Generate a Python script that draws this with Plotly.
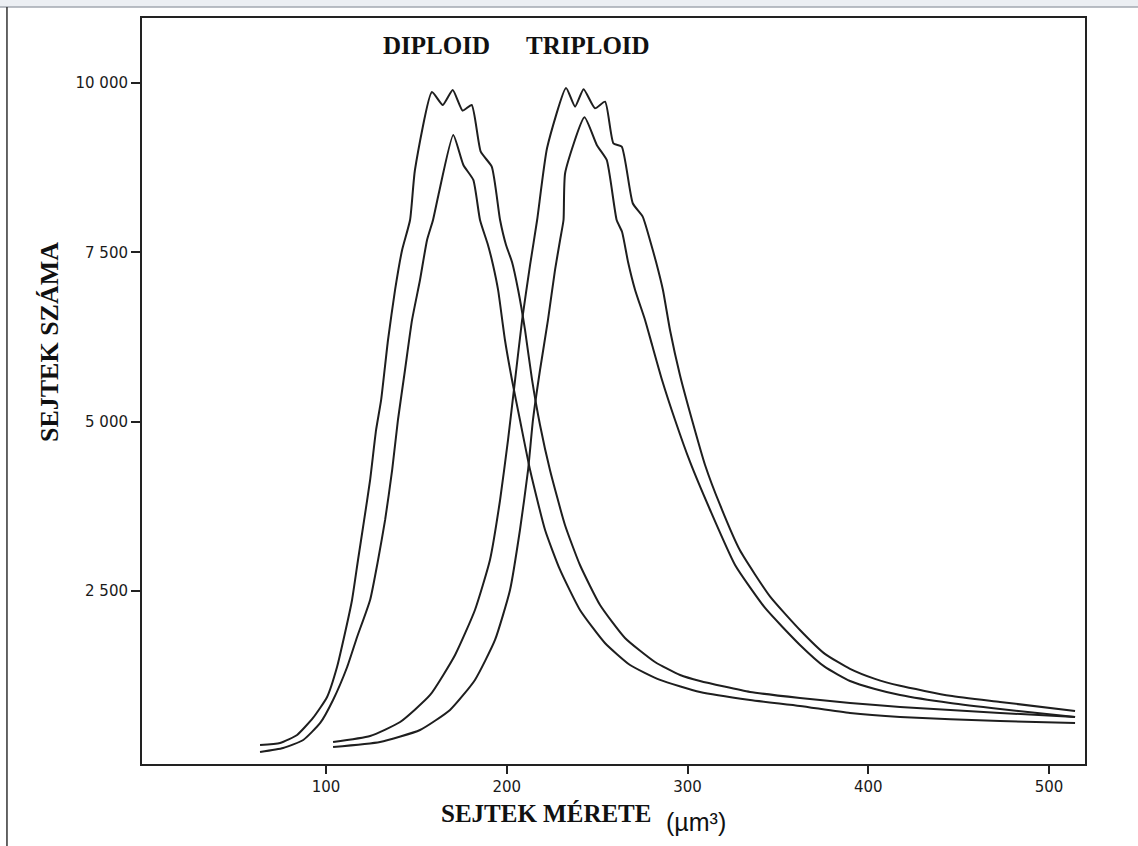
import plotly.graph_objects as go

# Cell-size distributions (cell volume in µm³ vs. number of cells)
dip_outer_x = [63.5, 74.6, 84.0, 92.8, 100.6, 106.1, 110.5, 114.4, 117.7, 121.1, 124.4, 127.7,
               130.5, 134.3, 138.2, 142.1, 146.5, 149.2, 158.6, 164.6, 170.1, 175.6, 180.6,
               185.6, 191.7, 196.3, 199.6, 202.9, 206.3, 210.1, 214.0, 218.4, 223.9, 232.2,
               240.5, 251.6, 265.4, 282.0, 295.9, 306.9, 334.6, 362.2, 389.9, 417.6, 472.9, 514.4]
dip_outer_y = [226, 255, 374, 625, 935, 1377, 1879, 2367, 2957, 3548, 4138, 4877,
               5320, 6205, 6944, 7534, 7977, 8715, 9867, 9675, 9896, 9591, 9675,
               8985, 8764, 7977, 7608, 7357, 6944, 6353, 5615, 4950, 4286, 3474,
               2883, 2293, 1806, 1451, 1259, 1171, 1008, 920, 846, 787, 698, 639]

dip_inner_x = [63.5, 76.3, 87.4, 96.8, 103.9, 111.7, 117.2, 124.4, 128.8, 132.7, 136.6, 139.8,
               143.7, 147.6, 152.0, 155.9, 159.2, 162.2, 170.4, 176.0, 181.5, 185.2, 189.6,
               192.4, 195.2, 199.0, 202.9, 207.3, 212.9, 221.2, 229.5, 240.5, 254.3, 268.2,
               284.8, 306.9, 334.6, 362.2, 389.9, 417.6, 472.9, 514.4]
dip_inner_y = [123, 182, 300, 551, 890, 1377, 1820, 2367, 2957, 3548, 4286, 5024,
               5762, 6501, 7091, 7682, 7977, 8346, 9232, 8789, 8568, 7977, 7608,
               7313, 6944, 6205, 5615, 5024, 4286, 3400, 2810, 2219, 1732, 1407,
               1186, 1008, 890, 802, 698, 639, 580, 551]

trip_outer_x = [103.9, 124.4, 141.0, 157.6, 171.4, 182.4, 190.7, 196.3, 200.7, 204.6, 208.5,
                212.9, 216.8, 222.3, 232.8, 237.8, 242.5, 248.8, 254.4, 259.0, 263.6, 269.7,
                275.2, 279.2, 282.6, 286.4, 290.3, 295.8, 302.5, 309.7, 318.0, 329.0, 345.6,
                362.2, 376.0, 389.9, 403.7, 417.6, 445.3, 472.9, 514.4]
trip_outer_y = [270, 359, 565, 964, 1555, 2219, 2957, 3843, 4729, 5615, 6501,
                7313, 7977, 9040, 9926, 9650, 9907, 9626, 9724, 9109, 9059, 8224,
                8026, 7682, 7357, 6944, 6353, 5689, 5024, 4360, 3769, 3100, 2420,
                1924, 1571, 1350, 1202, 1099, 952, 861, 728]

trip_inner_x = [103.9, 129.9, 152.0, 168.6, 182.4, 193.5, 201.8, 207.3, 211.8, 214.5, 218.4,
                222.8, 226.7, 229.5, 231.4, 232.3, 243.0, 249.8, 255.3, 260.8, 263.8, 267.1,
                271.0, 276.5, 280.4, 285.9, 293.1, 301.4, 312.5, 326.3, 342.9, 362.2, 376.0,
                389.9, 403.7, 417.6, 445.3, 472.9, 514.4]
trip_inner_y = [196, 270, 447, 743, 1186, 1776, 2514, 3400, 4286, 5024, 5762,
                6501, 7239, 7682, 7977, 8671, 9493, 9084, 8863, 7977, 7800, 7357,
                6944, 6501, 6132, 5615, 5024, 4404, 3695, 2883, 2249, 1703, 1378,
                1171, 1053, 964, 846, 757, 639]

x_tick_vals = [100, 200, 300, 400, 500]
y_tick_vals = [2500, 5000, 7500, 10000]
y_tick_text = ["2 500", "5 000", "7 500", "10 000"]

LINE = dict(color="#1e1e1e", width=2, shape="spline", smoothing=0.5)

fig = go.Figure()
for xs, ys in [(dip_outer_x, dip_outer_y), (dip_inner_x, dip_inner_y),
               (trip_outer_x, trip_outer_y), (trip_inner_x, trip_inner_y)]:
    fig.add_trace(go.Scatter(x=xs, y=ys, mode="lines", line=LINE, hoverinfo="skip"))

serif_bold = dict(family="Liberation Serif", size=25, color="#111", weight="bold")

fig.add_annotation(x=161.4, y=10546, xref="x", yref="y", text="DIPLOID",
                   xanchor="center", yanchor="middle", showarrow=False, font=serif_bold)
fig.add_annotation(x=244.9, y=10546, xref="x", yref="y", text="TRIPLOID",
                   xanchor="center", yanchor="middle", showarrow=False, font=serif_bold)

# axis titles
fig.add_annotation(x=0.4279, y=-0.0657, xref="paper", yref="paper", text="SEJTEK MÉRETE",
                   xanchor="center", yanchor="middle", showarrow=False, font=serif_bold)
fig.add_annotation(x=0.588, y=-0.0775, xref="paper", yref="paper", text="(µm³)",
                   xanchor="center", yanchor="middle", showarrow=False,
                   font=dict(family="Liberation Sans", size=25, color="#111"))
fig.add_annotation(x=-0.0975, y=0.5657, xref="paper", yref="paper", text="SEJTEK SZÁMA",
                   textangle=-90, xanchor="center", yanchor="middle", showarrow=False,
                   font=dict(family="Liberation Serif", size=26, color="#111", weight="bold"))

# page border decoration
fig.add_shape(type="rect", xref="paper", yref="paper", x0=-0.16, x1=1.07, y0=1.0147, y1=1.03,
              line=dict(width=0), fillcolor="#eceff3", layer="below")
fig.add_shape(type="line", xref="paper", yref="paper", x0=-0.16, x1=1.07, y0=1.0147, y1=1.0147,
              line=dict(color="#a3a8b0", width=1.5))
fig.add_shape(type="line", xref="paper", yref="paper", x0=-0.1432, x1=-0.1432, y0=-0.11, y1=1.0147,
              line=dict(color="#333", width=1.5))

tick_font = dict(family="DejaVu Sans", size=15, color="#1a1a1a")

fig.update_xaxes(range=[-1.8, 519.9], tickvals=x_tick_vals, ticks="outside", ticklen=8,
                 tickwidth=1.5, tickcolor="#222", showline=True, mirror=True, linecolor="#222",
                 linewidth=2, showgrid=False, zeroline=False, tickfont=tick_font)
fig.update_yaxes(range=[-55, 10959], tickvals=y_tick_vals, ticktext=y_tick_text,
                 ticks="outside", ticklen=9, tickwidth=1.5, tickcolor="#222", showline=True,
                 mirror=True, linecolor="#222", linewidth=2, showgrid=False, zeroline=False,
                 tickfont=tick_font)

fig.update_layout(width=1138, height=846, margin=dict(l=142, r=53, t=18, b=82),
                  paper_bgcolor="white", plot_bgcolor="white", showlegend=False,
                  hovermode=False)

fig.write_html("out.html")
